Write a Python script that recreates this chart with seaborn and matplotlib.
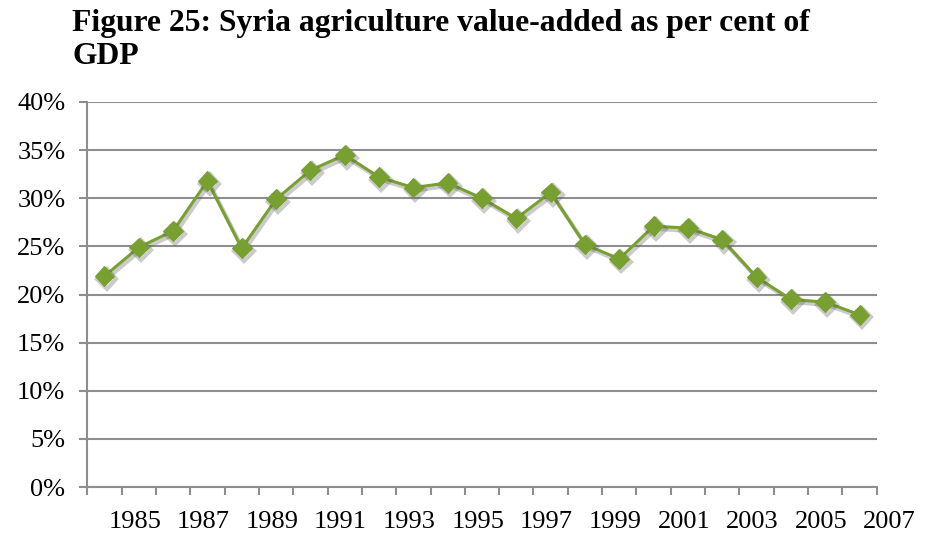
import matplotlib
matplotlib.use("Agg")
import matplotlib.pyplot as plt
import matplotlib.patheffects as pe
from matplotlib.ticker import FuncFormatter, MultipleLocator
import seaborn as sns
import pandas as pd

years = list(range(1984, 2007))
agri_share = [21.9, 24.9, 26.6, 31.8, 24.8, 29.9, 32.9, 34.5, 32.2, 31.1, 31.6, 30.0,
              27.9, 30.6, 25.2, 23.7, 27.1, 26.9, 25.7, 21.8, 19.5, 19.2, 17.9]
tick_labels = [str(y) for y in range(1985, 2008, 2)]
title = "Figure 25: Syria agriculture value-added as per cent of\nGDP"

df = pd.DataFrame({"year": years, "share": agri_share})

sns.set_style("white")
plt.rcParams["font.family"] = ["Liberation Serif", "DejaVu Serif"]

fig = plt.figure(figsize=(9.25, 5.39), dpi=100)
ax = fig.add_axes([87.3 / 925, 1 - 487 / 539, 789.4 / 925, 385 / 539])

green = "#77A031"
grid_c = "#8E8E8E"

sns.lineplot(data=df, x="year", y="share", ax=ax, color=green, linewidth=2.2,
             marker="D", markersize=10, markeredgecolor=green, markerfacecolor=green,
             path_effects=[pe.SimpleLineShadow(offset=(1.5, -2), shadow_color="#555555", alpha=0.3,
                                               linewidth=3),
                           pe.Normal()])

ax.set_ylim(0, 40)
ax.set_xlim(1983.5, 2006.5)
ax.yaxis.set_major_locator(MultipleLocator(5))
ax.yaxis.set_major_formatter(FuncFormatter(lambda v, p: f"{v:.0f}%"))
ax.yaxis.grid(True, color=grid_c, linewidth=1.5)
ax.set_axisbelow(True)

for s in ["top", "right"]:
    ax.spines[s].set_visible(False)
for s in ["left", "bottom"]:
    ax.spines[s].set_color(grid_c)
    ax.spines[s].set_linewidth(1.5)

ax.tick_params(axis="y", which="major", direction="out", length=5.8, width=1.5,
               color=grid_c, labelsize=19, pad=10, left=True, labelcolor="black")
ax.set_xticks([y + 0.5 for y in range(1983, 2007)], minor=True)
ax.set_xticks([])
ax.tick_params(axis="x", which="minor", direction="out", length=5.5, width=1.5,
               color=grid_c, bottom=True)
ax.set_xlabel("")
ax.set_ylabel("")

for i, lab in enumerate(tick_labels):
    ax.text(1985 + 2 * i - 0.12, -0.091, lab, transform=ax.get_xaxis_transform(),
            ha="center", va="center", fontsize=19, color="black", clip_on=False)

fig.text(72 / 925, 1 - 9 / 539, title, ha="left", va="top", fontsize=22.8,
         fontweight="bold", color="black", linespacing=1.2)

fig.savefig("out.png", dpi=100)
